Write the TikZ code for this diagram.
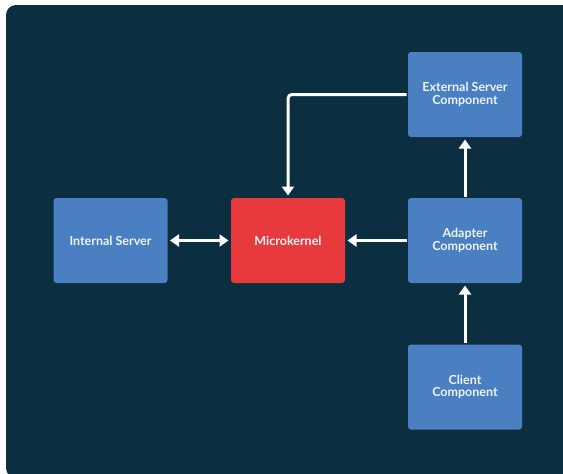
\documentclass[tikz,border=0pt]{standalone}
\usepackage{fontspec}
\setmainfont{Lato}
\usepackage{tikz}
\usetikzlibrary{arrows.meta}
\usetikzlibrary{positioning}
\definecolor{bgnavy}{HTML}{0B2F41}
\definecolor{boxblue}{HTML}{4A7FC2}
\definecolor{kernelred}{HTML}{E8393D}
\definecolor{labelwhite}{HTML}{EEF3FA}

\begin{document}
\begin{tikzpicture}[x=1pt,y=-1pt,->,>={Triangle[width=12pt,length=9pt]},shorten >=1pt,
    line width=3pt,draw=white,
    comp node/.style={rectangle,rounded corners=3pt,fill=boxblue,text=labelwhite,align=center,
      minimum width=114pt,minimum height=85pt,inner sep=0pt,
      font=\bfseries\fontsize{12.5}{12.5}\selectfont},
    kernel node/.style={comp node,fill=kernelred}]
   \useasboundingbox (0,0) rectangle (563,474);
   \begin{scope}
      \clip (0,0) rectangle (563,474);
      \fill[bgnavy,rounded corners=10pt] (6,5) rectangle (580,478);
   \end{scope}
   \begin{scope}
      \node[comp node] (int) at (110.5,240.5) {Internal Server};
      \node[kernel node] (mk) at (288,240.5) {Microkernel};
      \node[comp node] (ad) at (465,240.5) {Adapter\\Component};
      \node[comp node] (ext) at (465,94.5) {External Server\\Component};
      \node[comp node] (cl) at (465,387) {Client\\Component};
       \path[<->,white,shorten <=1pt] (int) edge (mk);
       \path[->,white] (ad) edge (mk);
       \draw[->,white,rounded corners=4pt] (ext.west) -| (mk.north);
       \path[->,white] (ad) edge (ext);
       \path[->,white] (cl) edge (ad);
   \end{scope}
\end{tikzpicture}
\end{document}
